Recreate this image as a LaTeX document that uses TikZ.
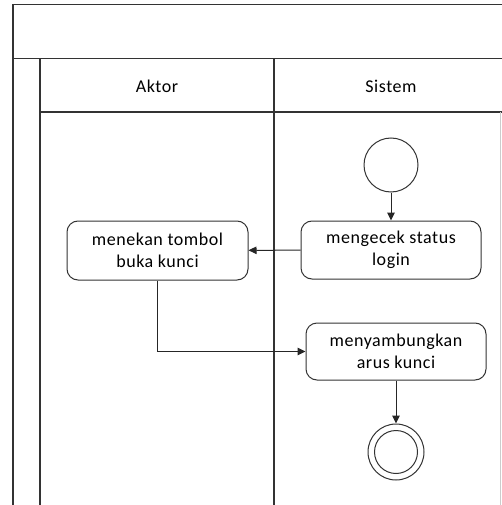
\documentclass[tikz,border=0pt]{standalone}
\usepackage{fontspec}
\setmainfont{Carlito}[LetterSpace=3]
\usetikzlibrary{arrows.meta}
\begin{document}
\begin{tikzpicture}[x=1pt,y=-1pt,
  frame/.style={line width=1.3pt,draw=black!80},
  act/.style={draw=black!80,line width=1pt,rounded corners=11pt,align=center,inner sep=0pt,
    font=\fontsize{18}{22}\selectfont},
  lbl/.style={font=\fontsize{18}{22}\selectfont},
  flow/.style={line width=1pt,draw=black!85,-{Triangle[length=8pt,width=7.5pt]}}]
\useasboundingbox (0,0) rectangle (502,505);
% frame
\draw[frame] (502,4.5) -- (13,4.5) -- (13,505);
\draw[frame] (13,58.5) -- (502,58.5);
\draw[frame] (40,58.5) -- (40,505);
\draw[frame] (274,58.5) -- (274,505);
\draw[frame] (40,112) -- (502,112);
\draw[line width=0.8pt,draw=black!20] (500,112) -- (500,505);
% headers
\node[lbl] (aktor) at (157,86) {Aktor};
\node[lbl] (sistem) at (391,86) {Sistem};
% nodes
\node[draw=black!80,line width=1pt,circle,minimum size=54pt,inner sep=0pt] (start) at (391,165) {};
\node[act,minimum width=180pt,minimum height=58pt] (cek) at (391,250) {mengecek status\\login};
\node[act,minimum width=181pt,minimum height=59pt] (tekan) at (157.5,250.5) {menekan tombol\\buka kunci};
\node[act,minimum width=180pt,minimum height=57pt] (sambung) at (396,351.5) {menyambungkan\\arus kunci};
\node[draw=black!80,line width=1pt,circle,minimum size=56pt,inner sep=0pt] (end) at (396,452) {};
\node[draw=black!80,line width=1pt,circle,minimum size=43pt,inner sep=0pt] (endin) at (396,452) {};
% connectors
\draw[flow] (start) -- (cek);
\draw[flow] (cek) -- (tekan);
\draw[flow] (tekan.south) |- (sambung.west);
\draw[flow] (sambung) -- (end);
\end{tikzpicture}
\end{document}
